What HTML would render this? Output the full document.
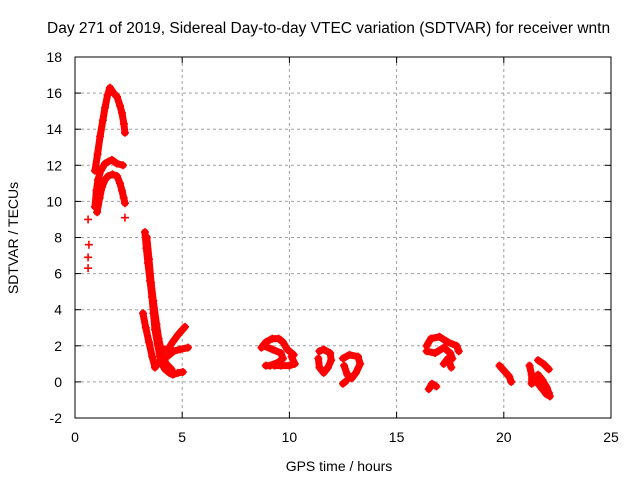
<!DOCTYPE html>
<html><head><meta charset="utf-8"><style>
body{margin:0;background:#fff}
svg text{font-family:"Liberation Sans",sans-serif;font-size:14px;fill:#000}
</style></head><body>
<svg id="chart" width="640" height="480" xmlns="http://www.w3.org/2000/svg">
<rect width="640" height="480" fill="#fff"/>
<text x="47" y="33" style="font-size:15.5px">Day 271 of 2019, Sidereal Day-to-day VTEC variation (SDTVAR) for receiver wntn</text>
<g id="grid"></g>
<g id="axes"></g>
<g id="marks"></g>
<text x="339" y="471" text-anchor="middle">GPS time / hours</text>
<text transform="translate(18,238) rotate(-90)" text-anchor="middle">SDTVAR / TECUs</text>
</svg>
<script>
const xTicks=[0,5,10,15,20,25];
const yTicks=[-2,0,2,4,6,8,10,12,14,16,18];
// tracks: [hours, TECU] points
const trackUpper=[[0.93,11.7],[1.05,12.6],[1.17,13.6],[1.3,14.5],[1.4,15.2],[1.52,15.9],[1.63,16.3],[1.8,16.0],[1.96,15.8],[2.1,15.3],[2.19,14.9],[2.28,14.3],[2.33,13.8]];
const trackMiddle=[[0.93,9.7],[1.0,10.6],[1.07,11.2],[1.2,11.7],[1.4,12.1],[1.55,12.2],[1.72,12.3],[1.95,12.1],[2.24,12.0]];
const trackLower=[[1.03,9.4],[1.15,10.2],[1.26,10.8],[1.4,11.2],[1.54,11.4],[1.75,11.5],[1.96,11.4],[2.1,11.0],[2.19,10.6],[2.27,10.2],[2.33,9.9]];
const trackDescent=[[3.26,8.3],[3.33,7.4],[3.4,6.6],[3.5,5.6],[3.59,4.7],[3.66,3.8],[3.73,2.9],[3.85,2.1],[3.96,1.4],[4.1,0.9],[4.2,0.7],[4.4,0.5],[4.57,0.4],[4.8,0.5],[5.03,0.55]];
const trackDescent2=[[3.35,8.0],[3.45,6.8],[3.55,5.5],[3.65,4.5],[3.8,3.2],[3.9,2.4],[4.05,1.6],[4.25,1.0],[4.5,0.7]];
const trackLeftBand=[[3.17,3.8],[3.3,3.0],[3.45,2.2],[3.6,1.4],[3.73,0.8],[3.9,1.1]];
const trackRise=[[3.95,1.6],[4.15,1.8],[4.34,1.8],[4.55,2.2],[4.8,2.6],[5.13,3.05]];
const trackRise2=[[4.3,1.4],[4.6,1.7],[4.9,1.8],[5.27,1.9]];
const trackA1=[[8.7,1.9],[8.9,2.2],[9.2,2.4],[9.5,2.4],[9.7,2.2],[9.9,1.8],[10.2,1.5]];
const trackA2=[[8.8,2.0],[9.2,1.8],[9.6,1.6],[9.7,1.3],[9.5,1.1],[9.1,0.9],[8.9,0.9]];
const trackA3=[[9.3,0.9],[9.6,0.9],[10.0,0.9],[10.25,1.0],[10.1,1.4]];
const trackB=[[11.4,1.7],[11.6,1.8],[11.9,1.6],[11.95,1.2],[11.8,0.8],[11.6,0.5],[11.4,0.8],[11.35,1.3]];
const trackC=[[12.5,1.3],[12.8,1.5],[13.2,1.4],[13.3,1.0],[13.1,0.5],[12.9,0.2],[12.7,0.4],[12.55,0.9]];
const trackC2=[[12.5,-0.1],[12.65,0.05]];
const trackD1=[[16.4,2.0],[16.6,2.4],[17.0,2.5],[17.4,2.2],[17.8,2.0],[17.9,1.7]];
const trackD2=[[16.4,1.7],[16.8,1.6],[17.2,1.9],[17.5,1.6],[17.6,1.3]];
const trackD3=[[17.2,1.0],[17.4,1.3],[17.55,0.8]];
const trackD4=[[16.5,-0.4],[16.65,-0.1],[16.85,-0.25]];
const trackE=[[19.8,0.9],[19.95,0.7],[20.1,0.5],[20.25,0.3],[20.35,0.0]];
const trackF1=[[21.6,1.2],[21.85,1.0],[22.1,0.7]];
const trackF2=[[21.2,0.9],[21.3,0.4],[21.3,-0.1],[21.5,0.1]];
const trackF3=[[21.6,0.4],[21.8,0.1],[22.0,-0.3],[22.1,-0.6],[22.15,-0.8]];
const trackF4=[[21.6,-0.1],[21.8,-0.4],[22.0,-0.7]];
const isolated=[[0.61,9.0],[2.33,9.1],[0.65,7.6],[0.61,6.9],[0.61,6.3]];
const tracks=[trackUpper,trackMiddle,trackLower,trackDescent,trackDescent2,trackLeftBand,trackRise,trackRise2,trackA1,trackA2,trackA3,trackB,trackC,trackC2,trackD1,trackD2,trackD3,trackD4,trackE,trackF1,trackF2,trackF3,trackF4];

const X0=75,X1=611,Y0=418,Y1=57;
const xs=t=>X0+(t-0)/(25-0)*(X1-X0);
const ys=v=>Y0-(v-(-2))/(18-(-2))*(Y0-Y1);
const NS="http://www.w3.org/2000/svg";
function mk(tag,attrs,parent){const e=document.createElementNS(NS,tag);for(const k in attrs)e.setAttribute(k,attrs[k]);parent.appendChild(e);return e;}
const grid=document.getElementById('grid'),axes=document.getElementById('axes'),marks=document.getElementById('marks');
xTicks.forEach(t=>{const x=xs(t);
 if(t>0&&t<25){const g=mk('line',{x1:x,y1:Y1,x2:x,y2:Y0,stroke:'#a0a0a0','stroke-dasharray':'3,3'},grid);
 
 }
 mk('line',{x1:x,y1:Y0,x2:x,y2:Y0-6,stroke:'#000'},axes);
 mk('line',{x1:x,y1:Y1,x2:x,y2:Y1+6,stroke:'#000'},axes);
 const l=mk('text',{x:x,y:Y0+24,'text-anchor':'middle'},axes);l.textContent=t;
 
 
});
yTicks.forEach(v=>{const y=ys(v);
 if(v>-2&&v<18){const g=mk('line',{x1:X0,y1:y,x2:X1,y2:y,stroke:'#a0a0a0','stroke-dasharray':'3,3'},grid);
 
 }
 mk('line',{x1:X0,y1:y,x2:X0+6,y2:y,stroke:'#000'},axes);
 mk('line',{x1:X1,y1:y,x2:X1-6,y2:y,stroke:'#000'},axes);
 const l=mk('text',{x:X0-13,y:y+5,'text-anchor':'end'},axes);l.textContent=v;
 
 
});
const frame=mk('rect',{x:X0,y:Y1,width:X1-X0,height:Y0-Y1,fill:'none',stroke:'#000'},axes);


function plus(t,v){const x=xs(t),y=ys(v);
 const p=mk('path',{d:`M${x-4},${y}H${x+4}M${x},${y-4}V${y+4}`,stroke:'#f00','stroke-width':1.6,fill:'none'},marks);
 
 }
tracks.forEach(tr=>{
 const pl=mk('polyline',{points:tr.map(p=>xs(p[0])+','+ys(p[1])).join(' '),stroke:'#f00','stroke-width':7,fill:'none','stroke-linejoin':'round','stroke-linecap':'round'},marks);
 
 
 tr.forEach(p=>plus(p[0],p[1]));
});
isolated.forEach(p=>plus(p[0],p[1]));
</script>
</body></html>
